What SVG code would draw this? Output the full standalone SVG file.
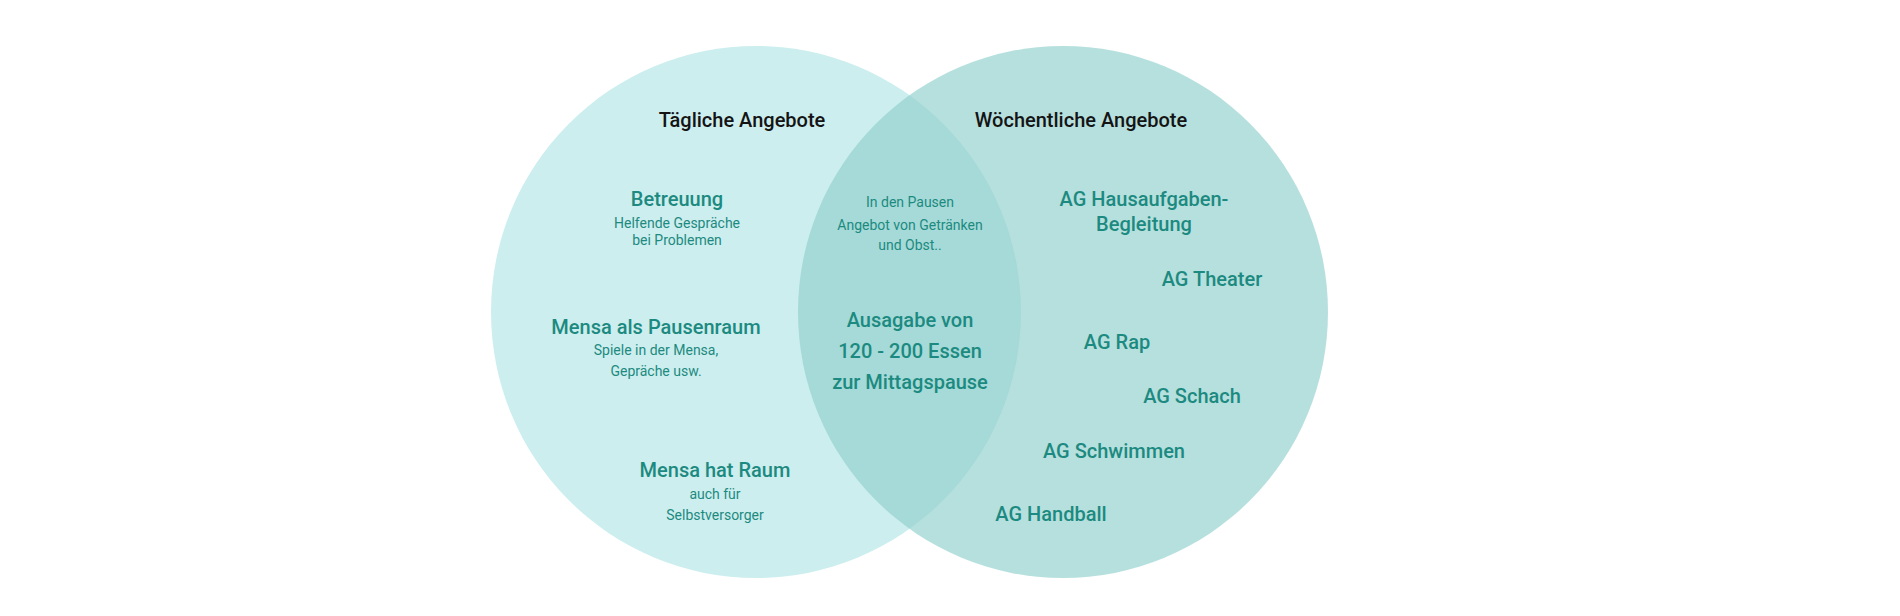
<svg xmlns="http://www.w3.org/2000/svg" width="1900" height="616" viewBox="0 0 1900 616">
<style>
text{font-family:Roboto,"Liberation Sans",sans-serif;text-anchor:middle;fill:#1c8a80}
.h{font-size:20px;font-weight:500;fill:#141414}
.b{font-size:20px;font-weight:500}
.s{font-size:14px}
</style>
<rect width="1900" height="616" fill="#fff"/>
<g id="left"><ellipse cx="756" cy="312" rx="265" ry="266" fill="#cdeeee"/></g>
<g id="right"><ellipse cx="1063" cy="312" rx="265" ry="266" fill="#8fd0cc" fill-opacity="0.65"/></g>
<g id="connectors"></g>
<g id="labels">
<text class="h" x="742" y="127">Tägliche Angebote</text>
<text class="h" x="1081" y="127">Wöchentliche Angebote</text>
<text class="b" x="677" y="206">Betreuung</text>
<text class="s" x="677" y="228">Helfende Gespräche</text>
<text class="s" x="677" y="245">bei Problemen</text>
<text class="b" x="656" y="334">Mensa als Pausenraum</text>
<text class="s" x="656" y="355">Spiele in der Mensa,</text>
<text class="s" x="656" y="376">Gepräche usw.</text>
<text class="b" x="715" y="477">Mensa hat Raum</text>
<text class="s" x="715" y="499">auch für</text>
<text class="s" x="715" y="520">Selbstversorger</text>
<text class="s" x="910" y="207">In den Pausen</text>
<text class="s" x="910" y="230">Angebot von Getränken</text>
<text class="s" x="910" y="250">und Obst..</text>
<text class="b" x="910" y="327">Ausagabe von</text>
<text class="b" x="910" y="358">120 - 200 Essen</text>
<text class="b" x="910" y="389">zur Mittagspause</text>
<text class="b" x="1144" y="206">AG Hausaufgaben-</text>
<text class="b" x="1144" y="231">Begleitung</text>
<text class="b" x="1212" y="286">AG Theater</text>
<text class="b" x="1117" y="349">AG Rap</text>
<text class="b" x="1192" y="403">AG Schach</text>
<text class="b" x="1114" y="458">AG Schwimmen</text>
<text class="b" x="1051" y="521">AG Handball</text>
</g>
</svg>
